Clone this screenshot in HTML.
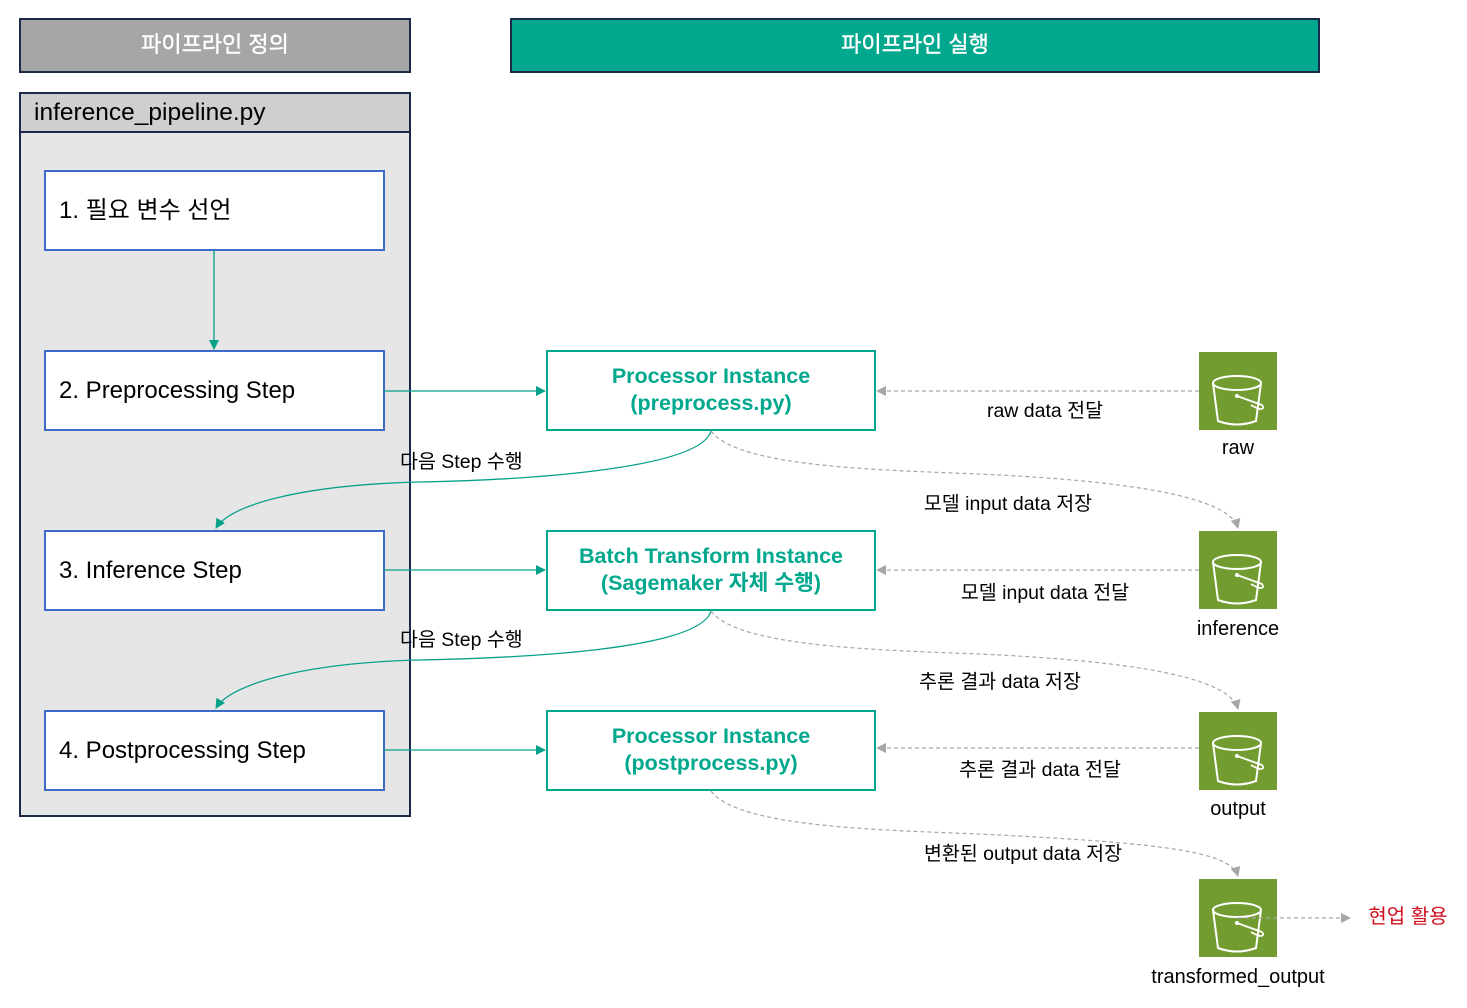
<!DOCTYPE html>
<html><head><meta charset="utf-8"><style>
html,body{margin:0;padding:0;background:#fff;}
svg text{font-family:"Liberation Sans","Noto Sans CJK KR",sans-serif;}
</style></head><body>
<svg width="1467" height="1003" viewBox="0 0 1467 1003" xmlns="http://www.w3.org/2000/svg">
<defs>
<marker id="at" markerWidth="10" markerHeight="10" refX="9" refY="5" orient="auto" markerUnits="userSpaceOnUse"><path d="M0,0 L10,5 L0,10 z" fill="#07a189"/></marker>
<marker id="ag" markerWidth="10" markerHeight="10" refX="9" refY="5" orient="auto" markerUnits="userSpaceOnUse"><path d="M0,0 L10,5 L0,10 z" fill="#a6a6a6"/></marker>
<g id="bk">
<rect x="0" y="0" width="78" height="78" fill="#739c30"/>
<ellipse cx="38" cy="31" rx="24" ry="7" fill="none" stroke="#fff" stroke-width="2"/>
<path d="M14,31 L19,69 Q38,76 57,69 L62,31" fill="none" stroke="#fff" stroke-width="2"/>
<path d="M38,44 L63,53 Q66,57 61,57 Q57,56 52,53" fill="none" stroke="#fff" stroke-width="1.8"/>
<circle cx="38" cy="44" r="2" fill="#fff"/>
</g>
</defs>
<rect x="20" y="19" width="390" height="53" fill="#a6a6a6" stroke="#1b2a4a" stroke-width="2"/>
<text x="215" y="52" font-size="22" fill="#fff" text-anchor="middle" stroke="#fff" stroke-width="0.4">파이프라인 정의</text>
<rect x="511" y="19" width="808" height="53" fill="#01a88d" stroke="#1b2a4a" stroke-width="2"/>
<text x="915" y="52" font-size="22" fill="#fff" text-anchor="middle" stroke="#fff" stroke-width="0.4">파이프라인 실행</text>
<rect x="20" y="93" width="390" height="723" fill="#e6e6e6" stroke="#1b2a4a" stroke-width="2"/>
<rect x="20" y="93" width="390" height="39" fill="#d0cfd0" stroke="#1b2a4a" stroke-width="2"/>
<text x="34" y="120" font-size="24.5" fill="#000">inference_pipeline.py</text>
<g fill="#fff" stroke="#3d6cc8" stroke-width="2">
<rect x="45" y="171" width="339" height="79"/>
<rect x="45" y="351" width="339" height="79"/>
<rect x="45" y="531" width="339" height="79"/>
<rect x="45" y="711" width="339" height="79"/>
</g>
<g font-size="24" fill="#000">
<text x="59" y="218">1. 필요 변수 선언</text>
<text x="59" y="398">2. Preprocessing Step</text>
<text x="59" y="578">3. Inference Step</text>
<text x="59" y="758">4. Postprocessing Step</text>
</g>
<line x1="214" y1="250" x2="214" y2="349" stroke="#07a189" stroke-width="1.3" marker-end="url(#at)"/>
<g fill="#fff" stroke="#01a88d" stroke-width="2">
<rect x="547" y="351" width="328" height="79"/>
<rect x="547" y="531" width="328" height="79"/>
<rect x="547" y="711" width="328" height="79"/>
</g>
<g font-size="21.5" font-weight="bold" fill="#01a88d" text-anchor="middle">
<text x="711" y="383">Processor Instance</text>
<text x="711" y="410">(preprocess.py)</text>
<text x="711" y="563">Batch Transform Instance</text>
<text x="711" y="590">(Sagemaker 자체 수행)</text>
<text x="711" y="743">Processor Instance</text>
<text x="711" y="770">(postprocess.py)</text>
</g>
<g stroke="#07a189" stroke-width="1.3" fill="none">
<line x1="384" y1="391" x2="545" y2="391" marker-end="url(#at)"/>
<line x1="384" y1="570" x2="545" y2="570" marker-end="url(#at)"/>
<line x1="384" y1="750" x2="545" y2="750" marker-end="url(#at)"/>
<path d="M711,431 C700,470 520,480 420,482 C300,485 230,505 216,528" marker-end="url(#at)"/>
<path d="M711,611 C700,650 520,658 420,660 C300,663 230,685 216,708" marker-end="url(#at)"/>
</g>
<g font-size="19.5" fill="#000">
<text x="400" y="468">다음 Step 수행</text>
<text x="400" y="646">다음 Step 수행</text>
</g>
<use href="#bk" x="1199" y="352"/>
<use href="#bk" x="1199" y="531"/>
<use href="#bk" x="1199" y="712"/>
<use href="#bk" x="1199" y="879"/>
<g font-size="20" fill="#000" text-anchor="middle">
<text x="1238" y="454">raw</text>
<text x="1238" y="635">inference</text>
<text x="1238" y="815">output</text>
<text x="1238" y="983">transformed_output</text>
</g>
<g stroke="#a6a6a6" stroke-width="1.2" fill="none" stroke-dasharray="4,3">
<line x1="1199" y1="391" x2="877" y2="391" marker-end="url(#ag)"/>
<line x1="1199" y1="570" x2="877" y2="570" marker-end="url(#ag)"/>
<line x1="1199" y1="748" x2="877" y2="748" marker-end="url(#ag)"/>
<path d="M711,431 C740,470 900,470 1000,475 C1150,483 1230,500 1238,528" marker-end="url(#ag)"/>
<path d="M711,611 C740,650 900,650 1000,655 C1150,663 1230,680 1238,709" marker-end="url(#ag)"/>
<path d="M711,791 C740,830 900,830 1000,835 C1150,843 1230,850 1238,876" marker-end="url(#ag)"/>
<line x1="1238" y1="918" x2="1350" y2="918" marker-end="url(#ag)"/>
</g>
<g font-size="19.5" fill="#000" text-anchor="middle">
<text x="1045" y="417">raw data 전달</text>
<text x="1008" y="510">모델 input data 저장</text>
<text x="1045" y="599">모델 input data 전달</text>
<text x="1000" y="688">추론 결과 data 저장</text>
<text x="1040" y="776">추론 결과 data 전달</text>
<text x="1023" y="860">변환된 output data 저장</text>
</g>
<text x="1408" y="923" font-size="20" fill="#d0101e" text-anchor="middle">현업 활용</text>
</svg>
</body></html>
